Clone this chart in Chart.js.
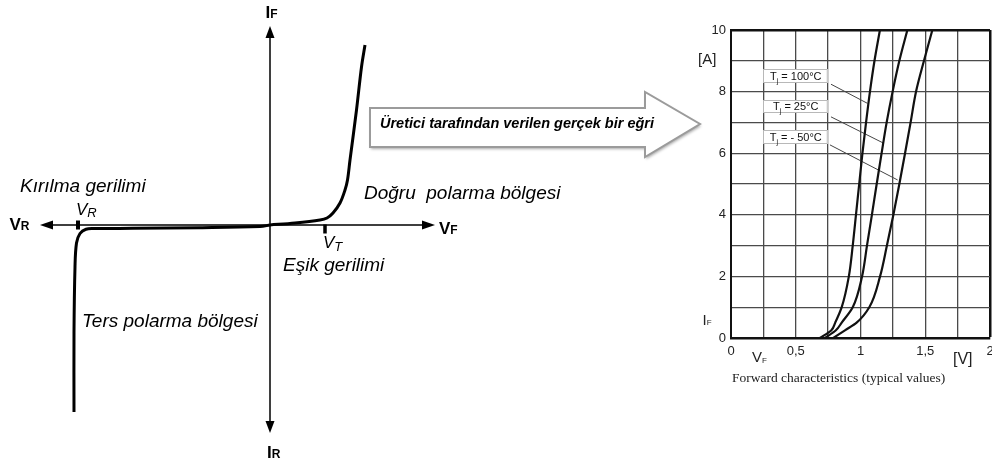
<!DOCTYPE html>
<html lang="tr">
<head>
<meta charset="UTF-8">
<title>Diyot akım-gerilim karakteristiği</title>
<style>
    body { margin: 0; background: #fff; }
    .wrap { position: relative; width: 992px; height: 468px; overflow: hidden; }
    #diodeChart { position: absolute; left: 0; top: 0; }
    #forwardChart { position: absolute; left: 690px; top: 0; }
</style>
</head>
<body>
<div class="wrap">
    <canvas id="diodeChart" width="710" height="468"></canvas>
    <canvas id="forwardChart" width="302" height="400"></canvas>
</div>

<script src="https://cdn.jsdelivr.net/npm/chart.js"></script>
<script>
// --- ideal diode curve, arbitrary units, origin at (0,0) ---
const fwdV = [0, 2.5, 5, 5.7, 6.3, 7, 7.5, 7.75, 8, 8.65, 9.15, 9.5];
const fwdI = [0, 0.2, 0.5, 0.7, 1.2, 2.2, 3.5, 4.5, 6.5, 11.5, 15.8, 18];
const revV = [0, -1, -7, -13.7, -17.5, -18.4, -19.0, -19.35, -19.5, -19.6, -19.6];
const revI = [0, -0.15, -0.27, -0.33, -0.36, -0.42, -0.85, -1.8, -4.2, -10.8, -18.7];
const vrMark = -19.2;   // breakdown voltage marker
const vtMark = 5.5;     // threshold voltage marker

// --- datasheet forward characteristics ---
const ifAmps = [0, 0.25, 0.5, 1, 2, 3, 4, 5, 6, 7, 8, 9, 10];
const vf100 = [0.687, 0.775, 0.805, 0.855, 0.91, 0.94, 0.965, 0.99, 1.015, 1.043, 1.073, 1.108, 1.15];
const vf25  = [0.726, 0.81, 0.855, 0.94, 1.012, 1.05, 1.088, 1.125, 1.163, 1.202, 1.248, 1.30, 1.362];
const vfM50 = [0.79, 0.88, 0.97, 1.068, 1.151, 1.204, 1.254, 1.30, 1.344, 1.387, 1.429, 1.49, 1.555];
const tempLabels = ['100°C', '25°C', '- 50°C'];
const tagTop = [8.72, 7.74, 6.76];
const leadX = [[0.772, 1.053], [0.772, 1.181], [0.764, 1.287]];
const leadY = [[8.24, 7.62], [7.18, 6.32], [6.27, 5.13]];
const xTickLabels = ['0', '0,5', '1', '1,5', '2'];
const yTickLabels = ['0', '2', '4', '6', '8', '10'];

Chart.defaults.font.family = '"Liberation Sans", Arial, sans-serif';
Chart.defaults.animation = false;

const pts = (xs, ys) => xs.map((v, i) => ({ x: v, y: ys[i] }));

function subText(ctx, main, sub, px, py, mainFont, subFont, drop) {
    ctx.font = mainFont;
    ctx.fillText(main, px, py);
    const w = ctx.measureText(main).width;
    ctx.font = subFont;
    ctx.fillText(sub, px + w, py + drop);
}

// axes with arrowheads, labels and the pointer arrow
const diodeDecor = {
    id: 'diodeDecor',
    beforeDatasetsDraw(chart) {
        const { ctx, scales: { x, y } } = chart;
        const ox = x.getPixelForValue(0), oy = y.getPixelForValue(0);
        const l = x.getPixelForValue(-23), r = x.getPixelForValue(16.5);
        const t = y.getPixelForValue(19.9), b = y.getPixelForValue(-20.8);
        ctx.save();
        ctx.strokeStyle = '#000';
        ctx.fillStyle = '#000';
        ctx.lineWidth = 1.5;
        ctx.beginPath();
        ctx.moveTo(l + 6, oy); ctx.lineTo(r - 6, oy);
        ctx.moveTo(ox, t + 6); ctx.lineTo(ox, b - 6);
        ctx.stroke();
        const head = (p) => {
            ctx.beginPath();
            ctx.moveTo(p[0], p[1]); ctx.lineTo(p[2], p[3]); ctx.lineTo(p[4], p[5]);
            ctx.closePath(); ctx.fill();
        };
        head([l, oy, l + 13, oy - 4.5, l + 13, oy + 4.5]);
        head([r, oy, r - 13, oy - 4.5, r - 13, oy + 4.5]);
        head([ox, t, ox - 4.5, t + 12, ox + 4.5, t + 12]);
        head([ox, b, ox - 4.5, b - 12, ox + 4.5, b - 12]);

        // pointer arrow towards the datasheet plot
        ctx.beginPath();
        ctx.moveTo(370, 108); ctx.lineTo(645, 108); ctx.lineTo(645, 92);
        ctx.lineTo(700, 124); ctx.lineTo(645, 157); ctx.lineTo(645, 147);
        ctx.lineTo(370, 147); ctx.closePath();
        ctx.shadowColor = 'rgba(0,0,0,0.35)';
        ctx.shadowBlur = 3;
        ctx.shadowOffsetX = 1;
        ctx.shadowOffsetY = 2;
        ctx.fillStyle = '#fff';
        ctx.fill();
        ctx.shadowColor = 'transparent';
        ctx.strokeStyle = '#9b9b9b';
        ctx.lineWidth = 2;
        ctx.stroke();
        ctx.fillStyle = '#000';
        ctx.font = 'italic bold 14.5px "Liberation Sans", Arial, sans-serif';
        ctx.textBaseline = 'alphabetic';
        ctx.fillText('Üretici tarafından verilen gerçek bir eğri', 380, 128);
        ctx.restore();
    },
    afterDatasetsDraw(chart) {
        const { ctx, scales: { x, y } } = chart;
        const px = v => x.getPixelForValue(v), py = v => y.getPixelForValue(v);
        const fam = '"Liberation Sans", Arial, sans-serif';
        ctx.save();
        ctx.fillStyle = '#000';
        ctx.textBaseline = 'alphabetic';
        // axis names
        subText(ctx, 'I', 'F', px(-0.45), py(20.7), `bold 17px ${fam}`, `bold 12px ${fam}`, 0);
        subText(ctx, 'I', 'R', px(-0.3), py(-23.3), `bold 17px ${fam}`, `bold 12px ${fam}`, 0);
        subText(ctx, 'V', 'R', px(-26.05), py(-0.5), `bold 17px ${fam}`, `bold 12px ${fam}`, 0);
        subText(ctx, 'V', 'F', px(16.9), py(-0.85), `bold 17px ${fam}`, `bold 12px ${fam}`, 0);
        // region notes
        ctx.font = `italic 19px ${fam}`;
        ctx.fillText('Kırılma gerilimi', px(-25), py(3.3));
        ctx.fillText('Doğru  polarma bölgesi', px(9.4), py(2.6));
        ctx.fillText('Eşik gerilimi', px(1.3), py(-4.6));
        ctx.fillText('Ters polarma bölgesi', px(-18.8), py(-10.2));
        subText(ctx, 'V', 'R', px(-19.4), py(1.0), `italic 17px ${fam}`, `italic 13px ${fam}`, 2);
        subText(ctx, 'V', 'T', px(5.3), py(-2.3), `italic 17px ${fam}`, `italic 13px ${fam}`, 3);
        ctx.restore();
    }
};

new Chart(document.getElementById('diodeChart'), {
    type: 'line',
    data: {
        datasets: [
            { data: pts(fwdV, fwdI), borderColor: '#000', borderWidth: 3, tension: 0.35 },
            { data: pts(revV, revI), borderColor: '#000', borderWidth: 3, tension: 0.35 },
            { data: pts([vrMark, vrMark], [0.45, -0.45]), borderColor: '#000', borderWidth: 4, tension: 0 },
            { data: pts([vtMark, vtMark], [0.05, -0.85]), borderColor: '#000', borderWidth: 3.5, tension: 0 }
        ]
    },
    options: {
        responsive: false,
        layout: { padding: 0 },
        elements: { point: { radius: 0 }, line: { borderCapStyle: 'butt' } },
        scales: {
            x: { type: 'linear', display: false, min: -27, max: 44 },
            y: { type: 'linear', display: false, min: -24.3, max: 22.5 }
        },
        plugins: { legend: { display: false }, tooltip: { enabled: false } }
    },
    plugins: [diodeDecor]
});

// temperature tags, unit labels and caption
const forwardDecor = {
    id: 'forwardDecor',
    afterDatasetsDraw(chart) {
        const { ctx, chartArea: a, scales: { x, y } } = chart;
        const fam = '"Liberation Sans", Arial, sans-serif';
        ctx.save();
        ctx.textBaseline = 'alphabetic';
        const l = x.getPixelForValue(0.25), r = x.getPixelForValue(0.75);
        tempLabels.forEach((t, i) => {
            const top = Math.round(y.getPixelForValue(tagTop[i]));
            const bot = Math.round(y.getPixelForValue(tagTop[i] - 0.45));
            ctx.fillStyle = '#fff';
            ctx.fillRect(l, top, r - l, bot - top);
            ctx.strokeStyle = '#b8b8b8';
            ctx.lineWidth = 1;
            ctx.strokeRect(Math.round(l) + 0.5, top + 0.5, r - l - 1, bot - top - 1);
            ctx.fillStyle = '#111';
            ctx.font = `11px ${fam}`;
            const rest = ' = ' + t;
            const wT = ctx.measureText('T').width, wR = ctx.measureText(rest).width;
            ctx.font = `7px ${fam}`;
            const wj = ctx.measureText('j').width;
            let sx = (l + r) / 2 - (wT + wj + wR) / 2;
            const base = bot - 3;
            ctx.font = `11px ${fam}`;
            ctx.fillText('T', sx, base);
            ctx.font = `7px ${fam}`;
            ctx.fillText('j', sx + wT, base + 3);
            ctx.font = `11px ${fam}`;
            ctx.fillText(rest, sx + wT + wj, base);
        });
        ctx.fillStyle = '#222';
        ctx.font = `15px ${fam}`;
        ctx.fillText('[A]', a.left - 33, 64);
        subText(ctx, 'I', 'F', a.left - 28.5, 325, `15px ${fam}`, `8px ${fam}`, 0);
        subText(ctx, 'V', 'F', a.left + 21, 362, `15px ${fam}`, `8px ${fam}`, 1);
        ctx.font = `16px ${fam}`;
        ctx.fillText('[V]', a.left + 222, 364);
        ctx.font = '13.5px "Liberation Serif", "Times New Roman", serif';
        ctx.fillText('Forward characteristics (typical values)', a.left + 1, 382);
        ctx.restore();
    }
};

const gridW = (ctx, last) => (ctx.tick && ctx.tick.value === last ? 2.5 : 1.3);
const gridC = (ctx, last) => (ctx.tick && ctx.tick.value === last ? '#111' : '#4a4a4a');

// smooth along the current axis so the knees stay rounded
const curveStyle = { borderColor: '#111', borderWidth: 2.2, indexAxis: 'y', cubicInterpolationMode: 'monotone' };
const leadStyle = { borderColor: '#444', borderWidth: 1, tension: 0 };

new Chart(document.getElementById('forwardChart'), {
    type: 'line',
    data: {
        datasets: [
            { label: 'Tj = 100°C', data: pts(vf100, ifAmps), ...curveStyle },
            { label: 'Tj = 25°C', data: pts(vf25, ifAmps), ...curveStyle },
            { label: 'Tj = -50°C', data: pts(vfM50, ifAmps), ...curveStyle },
            ...leadX.map((lx, i) => ({ data: pts(lx, leadY[i]), ...leadStyle }))
        ]
    },
    options: {
        responsive: false,
        layout: { padding: { top: 30, right: 2, left: 0, bottom: 0 } },
        elements: { point: { radius: 0 } },
        scales: {
            x: {
                type: 'linear', min: 0, max: 2,
                afterFit: s => { s.height = 62; s.paddingLeft = 0; s.paddingRight = 0; },
                border: { color: '#111', width: 2.5 },
                grid: { drawTicks: false, color: c => gridC(c, 2), lineWidth: c => gridW(c, 2) },
                ticks: {
                    stepSize: 0.25, autoSkip: false, maxRotation: 0, padding: 6,
                    color: '#222', font: { size: 13 },
                    callback: (v, i) => (i % 2 === 0 ? xTickLabels[i / 2] : '')
                }
            },
            y: {
                type: 'linear', min: 0, max: 10,
                afterFit: s => { s.width = 41; s.paddingTop = 0; s.paddingBottom = 0; },
                border: { color: '#111', width: 2 },
                grid: { drawTicks: false, color: c => gridC(c, 10), lineWidth: c => gridW(c, 10) },
                ticks: {
                    stepSize: 1, autoSkip: false, padding: 5,
                    color: '#222', font: { size: 13 },
                    callback: v => (v % 2 === 0 ? yTickLabels[v / 2] : '')
                }
            }
        },
        plugins: { legend: { display: false }, tooltip: { enabled: false } }
    },
    plugins: [forwardDecor]
});
</script>
</body>
</html>
